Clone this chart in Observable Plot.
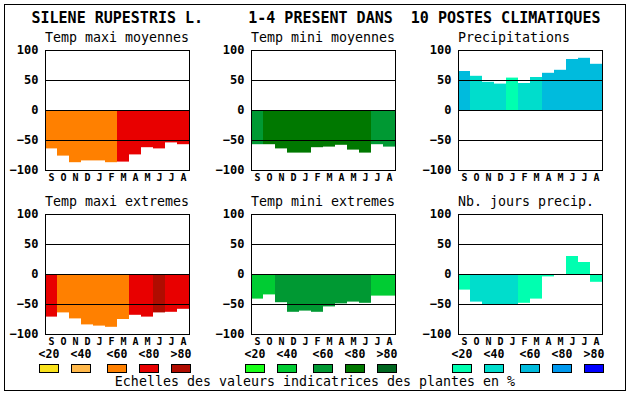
<!DOCTYPE html>
<html><head><meta charset="utf-8">
<script src="https://cdn.jsdelivr.net/npm/d3@7"></script>
<script src="https://cdn.jsdelivr.net/npm/@observablehq/plot@0.6"></script>
<style>
body{margin:0;background:#fff}
#page{position:relative;width:630px;height:394px;background:#fff;font-family:"DejaVu Sans Mono",monospace;color:#000;overflow:hidden}
.t{position:absolute;white-space:pre;line-height:1}
.box{position:absolute;box-sizing:border-box;border:1px solid #000;width:20px;height:9px}
#frame{position:absolute;left:4px;top:4px;width:622px;height:387px;box-sizing:border-box;border:1px solid #000}
.panel{position:absolute}
</style></head><body><div id="page"><div id="frame"></div></div>
<script>
const months = ["S","O","N","D","J","F","M","A","M","J","J","A"];
const yTicks = [-100, -50, 0, 50, 100];
const classLabels = ["<20","<40","<60","<80",">80"];
const paletteMaxi = ["#f9e21c","#ffb84a","#ff8000","#e80000","#b00c00"];
const paletteMini = ["#19ff19","#00cc33","#009933","#007800","#006620"];
const palettePrecip = ["#00ffb0","#00ddcc","#00bbdd","#0099ee","#0000ff"];

const titleText = "SILENE RUPESTRIS L.     1-4 PRESENT DANS  10 POSTES CLIMATIQUES";
const footerText = "Echelles des valeurs indicatrices des plantes en %";

const tmaxMoy      = [-64,-76,-87,-84,-84,-87,-86,-74,-62,-64,-54,-57];
const tmaxMoyClass = [2,2,2,2,2,2,3,3,3,3,3,3];
const tminMoy      = [-57,-57,-64,-71,-71,-62,-61,-58,-66,-71,-57,-61];
const tminMoyClass = [2,3,3,3,3,3,3,3,3,3,2,2];
const precip       = [65,57,47,44,54,45,55,62,67,85,87,77];
const precipClass  = [2,1,1,1,0,1,1,2,2,2,2,2];
const tmaxExt      = [-71,-64,-74,-84,-86,-88,-75,-68,-71,-64,-63,-58];
const tmaxExtClass = [3,2,2,2,2,2,2,3,3,4,3,3];
const tminExt      = [-41,-34,-47,-63,-61,-63,-54,-49,-46,-48,-36,-36];
const tminExtClass = [1,1,2,2,2,2,2,2,2,2,1,1];
const jours        = [-26,-46,-50,-50,-50,-48,-41,-4,0,30,20,-13];
const joursClass   = [0,1,1,1,1,0,0,0,0,0,0,0];

const panels = [
  {title:"Temp maxi moyennes", v:tmaxMoy, c:tmaxMoyClass, pal:paletteMaxi, col:0, row:0},
  {title:"Temp mini moyennes", v:tminMoy, c:tminMoyClass, pal:paletteMini, col:1, row:0},
  {title:"Precipitations", v:precip, c:precipClass, pal:palettePrecip, col:2, row:0},
  {title:"Temp maxi extremes", v:tmaxExt, c:tmaxExtClass, pal:paletteMaxi, col:0, row:1},
  {title:"Temp mini extremes", v:tminExt, c:tminExtClass, pal:paletteMini, col:1, row:1},
  {title:"Nb. jours precip.", v:jours, c:joursClass, pal:palettePrecip, col:2, row:1}
];

const page = document.getElementById("page");
const colLeft = [0, 206, 413];
const rowTop = [40, 204];
const ML = 45, MT = 10;

function txt(str, x, baseline, size, weight, anchor) {
  const d = document.createElement("div");
  d.className = "t";
  d.textContent = str;
  d.style.fontSize = size + "px";
  d.style.fontWeight = weight || "normal";
  d.style.top = (baseline - 0.846 * size) + "px";
  d.style.left = x + "px";
  if (anchor === "middle") d.style.transform = "translateX(-50%)";
  page.appendChild(d);
  return d;
}

txt(titleText, 31.5, 23.5, 15, "bold");

for (const p of panels) {
  const data = p.v.map((v, i) => ({i, v, fill: p.pal[p.c[i]]}));
  const chart = Plot.plot({
    width: 206, height: 150,
    marginLeft: ML, marginRight: 17, marginTop: MT, marginBottom: 20,
    x: {type: "band", domain: d3.range(12), padding: 0, label: null},
    y: {domain: [-100, 100], label: null},
    color: {type: "identity"},
    style: {fontFamily: "DejaVu Sans Mono", fontSize: "12px", background: "none", overflow: "visible", color: "#000"},
    marks: [
      Plot.barY(data, {x: "i", y: "v", fill: "fill"}),
      Plot.ruleY([50, 0, -50], {stroke: "#000"}),
      Plot.frame({stroke: "#000"}),
      Plot.axisY({ticks: yTicks, tickSize: 0, tickPadding: 7, fontWeight: "bold", fontSize: 12, label: null}),
      Plot.axisX({tickSize: 0, tickPadding: 3.5, tickFormat: i => months[i], fontWeight: "bold", fontSize: 10, label: null})
    ]
  });
  chart.classList.add("panel");
  chart.style.left = colLeft[p.col] + "px";
  chart.style.top = rowTop[p.row] + "px";
  page.appendChild(chart);
  txt(p.title, colLeft[p.col] + ML, rowTop[p.row] + MT - 8, 13.3, "normal");
}

const groupOffsets = [0, 32, 68, 100, 132];
const palettes = [paletteMaxi, paletteMini, palettePrecip];
palettes.forEach((pal, g) => {
  const gx = colLeft[g] + ML - 6;
  pal.forEach((color, k) => {
    const x = gx + groupOffsets[k];
    const b = document.createElement("div");
    b.className = "box";
    b.style.left = x + "px";
    b.style.top = "364px";
    b.style.background = color;
    page.appendChild(b);
    txt(classLabels[k], x + 10, 358.5, 11.5, "bold", "middle");
  });
});

txt(footerText, 315, 386.7, 13.3, "normal", "middle");
</script></body></html>
